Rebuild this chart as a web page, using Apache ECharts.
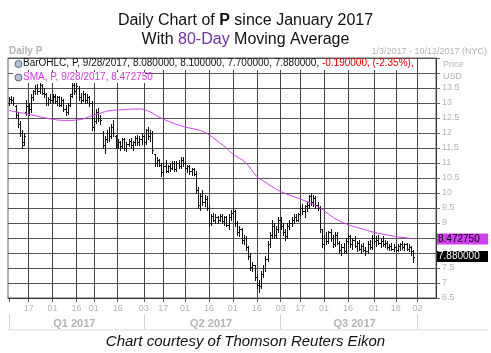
<!DOCTYPE html>
<html>
<head>
<meta charset="utf-8">
<script src="https://cdn.jsdelivr.net/npm/echarts@6/dist/echarts.min.js"></script>
<style>
  html, body { margin: 0; padding: 0; background: #fff; }
  #chart { width: 491px; height: 353px; }
</style>
</head>
<body>
<div id="chart"></div>
<script>
// trading calendar, 1/3/2017 - 10/12/2017
var holidays = ['2017-01-16', '2017-02-20', '2017-04-14', '2017-05-29', '2017-07-04', '2017-09-04']
var labelDates = ['2017-01-17', '2017-02-01', '2017-02-16', '2017-03-01', '2017-03-16', '2017-04-03',
  '2017-04-17', '2017-05-01', '2017-05-16', '2017-06-01', '2017-06-16', '2017-07-03', '2017-07-17',
  '2017-08-01', '2017-08-16', '2017-09-01', '2017-09-18', '2017-10-02']
var quarterStarts = ['2017-01-03', '2017-04-03', '2017-07-03', '2017-10-02']
var quarterLabelDates = ['2017-02-15', '2017-05-17', '2017-08-21']
var quarterNames = ['Q1 2017', 'Q2 2017', 'Q3 2017']

// daily bars, P
var opens = [
  13.0, 13.15, 13.1, 12.9, 12.6, 12.3, 12.0, 11.7, 12.7, 12.9,
  12.8, 13.2, 13.4, 13.5, 13.4, 13.6, 13.35, 13.3, 13.0, 13.15,
  13.1, 13.2, 13.05, 13.2, 12.95, 13.1, 12.8, 12.7, 12.95, 13.3,
  13.6, 13.4, 13.5, 13.2, 13.1, 13.3, 13.1, 13.2, 13.0, 12.2,
  12.4, 12.7, 12.5, 12.0, 11.6, 11.8, 12.0, 11.9, 12.2, 11.9,
  11.6, 11.7, 11.55, 11.8, 11.5, 11.65, 11.75, 11.6, 11.7, 11.85,
  11.7, 11.8, 11.9, 11.7, 12.1, 11.9, 12.0, 11.3, 11.0, 11.1,
  10.95, 10.7, 10.9, 10.75, 10.9, 10.85, 11.0, 10.8, 11.0, 10.9,
  11.1, 11.0, 10.85, 10.9, 10.75, 10.8, 10.65, 10.1, 9.6, 9.9,
  9.7, 9.8, 9.5, 9.0, 9.25, 9.1, 9.2, 9.1, 9.25, 9.05,
  9.2, 8.95, 9.2, 9.35, 9.4, 9.0, 8.7, 8.8, 8.45, 8.5,
  8.2, 7.9, 7.55, 7.6, 7.2, 6.95, 6.9, 7.3, 7.5, 7.8,
  8.3, 8.6, 8.9, 8.6, 8.8, 9.1, 8.9, 8.7, 8.55, 8.9,
  9.0, 9.1, 9.2, 9.1, 9.3, 9.5, 9.4, 9.55, 9.6, 9.9,
  9.7, 9.85, 9.6, 9.5, 8.8, 8.3, 8.5, 8.4, 8.7, 8.5,
  8.3, 8.6, 8.35, 8.1, 8.2, 8.05, 8.4, 8.55, 8.3, 8.45,
  8.25, 8.35, 8.15, 8.25, 8.1, 8.05, 8.3, 8.2, 8.5, 8.4,
  8.45, 8.35, 8.4, 8.3, 8.35, 8.2, 8.25, 8.15, 8.2, 8.1,
  8.25, 8.3, 8.2, 8.3, 8.15, 8.2, 8.08
]
var highs = [
  13.2, 13.25, 13.2, 12.95, 12.7, 12.4, 12.1, 12.0, 13.1, 13.0,
  13.3, 13.45, 13.6, 13.65, 13.7, 13.65, 13.5, 13.35, 13.2, 13.3,
  13.3, 13.3, 13.25, 13.25, 13.2, 13.15, 12.95, 13.0, 13.3, 13.7,
  13.7, 13.65, 13.55, 13.35, 13.4, 13.35, 13.3, 13.25, 13.05, 12.5,
  12.8, 12.85, 12.6, 12.05, 11.9, 12.1, 12.2, 12.3, 12.45, 11.95,
  11.8, 11.75, 11.85, 11.85, 11.7, 11.8, 11.85, 11.75, 11.9, 11.95,
  11.9, 12.0, 11.95, 12.15, 12.2, 12.1, 12.05, 11.3, 11.2, 11.15,
  11.0, 11.0, 11.1, 10.95, 11.0, 11.05, 11.05, 11.05, 11.1, 11.2,
  11.2, 11.05, 10.95, 10.95, 10.85, 10.85, 10.75, 10.2, 10.0, 10.1,
  9.95, 9.9, 9.6, 9.3, 9.35, 9.3, 9.25, 9.3, 9.3, 9.25,
  9.25, 9.3, 9.45, 9.5, 9.45, 9.05, 8.9, 8.85, 8.6, 8.55,
  8.25, 8.0, 7.7, 7.6, 7.3, 7.1, 7.4, 7.6, 7.9, 8.4,
  8.7, 9.1, 9.0, 8.9, 9.2, 9.2, 9.0, 8.8, 9.0, 9.1,
  9.2, 9.3, 9.3, 9.35, 9.6, 9.65, 9.6, 9.7, 9.95, 10.0,
  9.95, 9.9, 9.7, 9.55, 8.8, 8.6, 8.7, 8.75, 8.8, 8.6,
  8.7, 8.7, 8.4, 8.3, 8.35, 8.5, 8.65, 8.6, 8.5, 8.55,
  8.4, 8.45, 8.3, 8.35, 8.2, 8.4, 8.45, 8.6, 8.6, 8.55,
  8.6, 8.5, 8.55, 8.45, 8.4, 8.3, 8.35, 8.3, 8.25, 8.3,
  8.35, 8.4, 8.35, 8.35, 8.3, 8.25, 8.10
]
var lows = [
  12.95, 13.0, 12.95, 12.5, 12.2, 11.9, 11.5, 11.6, 12.6, 12.6,
  12.7, 13.1, 13.3, 13.3, 13.35, 13.3, 13.2, 12.95, 12.95, 13.0,
  13.0, 13.0, 12.95, 12.9, 12.9, 12.75, 12.6, 12.65, 12.9, 13.2,
  13.3, 13.3, 13.1, 13.0, 13.05, 13.0, 13.0, 12.9, 12.1, 12.1,
  12.35, 12.4, 12.3, 11.5, 11.35, 11.7, 11.75, 11.85, 11.9, 11.5,
  11.5, 11.45, 11.5, 11.45, 11.4, 11.55, 11.5, 11.45, 11.6, 11.6,
  11.6, 11.65, 11.6, 11.65, 11.8, 11.75, 11.35, 10.9, 10.9, 10.9,
  10.55, 10.6, 10.7, 10.7, 10.75, 10.8, 10.75, 10.75, 10.85, 10.85,
  10.9, 10.8, 10.7, 10.65, 10.6, 10.6, 10.0, 9.5, 9.45, 9.6,
  9.55, 9.45, 8.9, 8.95, 9.05, 9.0, 9.0, 9.05, 9.0, 8.95,
  8.9, 8.8, 9.1, 9.2, 8.9, 8.6, 8.55, 8.35, 8.3, 8.1,
  7.8, 7.45, 7.4, 7.1, 6.85, 6.7, 6.85, 7.2, 7.4, 7.75,
  8.2, 8.5, 8.5, 8.5, 8.7, 8.8, 8.6, 8.45, 8.5, 8.8,
  8.9, 9.0, 9.05, 9.05, 9.25, 9.3, 9.2, 9.4, 9.5, 9.6,
  9.55, 9.5, 9.45, 8.7, 8.2, 8.15, 8.3, 8.35, 8.4, 8.2,
  8.25, 8.3, 8.0, 7.95, 8.0, 8.0, 8.3, 8.2, 8.15, 8.2,
  8.05, 8.1, 8.0, 8.05, 7.95, 8.0, 8.15, 8.15, 8.3, 8.25,
  8.3, 8.2, 8.25, 8.2, 8.15, 8.1, 8.1, 8.05, 8.05, 8.05,
  8.1, 8.15, 8.1, 8.1, 8.05, 7.95, 7.70
]
var closes = [
  13.15, 13.1, 13.0, 12.6, 12.3, 12.0, 11.6, 11.9, 12.9, 12.8,
  13.2, 13.4, 13.5, 13.4, 13.6, 13.35, 13.3, 13.0, 13.15, 13.1,
  13.25, 13.05, 13.2, 12.95, 13.1, 12.8, 12.7, 12.95, 13.25, 13.6,
  13.4, 13.55, 13.2, 13.1, 13.3, 13.1, 13.2, 13.0, 12.2, 12.4,
  12.7, 12.5, 12.45, 11.6, 11.8, 12.0, 11.9, 12.2, 12.0, 11.6,
  11.7, 11.55, 11.8, 11.5, 11.65, 11.75, 11.6, 11.7, 11.85, 11.7,
  11.8, 11.9, 11.7, 12.1, 11.9, 12.0, 11.45, 11.0, 11.1, 10.95,
  10.7, 10.9, 10.75, 10.9, 10.85, 11.0, 10.8, 11.0, 10.9, 11.1,
  11.0, 10.85, 10.9, 10.75, 10.8, 10.65, 10.1, 9.6, 9.9, 9.7,
  9.8, 9.5, 9.0, 9.25, 9.1, 9.2, 9.1, 9.25, 9.05, 9.2,
  8.95, 9.2, 9.35, 9.4, 9.0, 8.7, 8.8, 8.45, 8.5, 8.2,
  7.9, 7.55, 7.6, 7.2, 6.95, 6.9, 7.3, 7.5, 7.8, 8.3,
  8.6, 8.9, 8.6, 8.8, 9.1, 8.9, 8.7, 8.55, 8.9, 9.0,
  9.1, 9.2, 9.1, 9.3, 9.5, 9.4, 9.55, 9.6, 9.9, 9.7,
  9.85, 9.6, 9.5, 8.8, 8.3, 8.5, 8.4, 8.7, 8.5, 8.3,
  8.6, 8.35, 8.1, 8.2, 8.05, 8.4, 8.55, 8.3, 8.45, 8.25,
  8.35, 8.15, 8.25, 8.1, 8.05, 8.3, 8.2, 8.5, 8.4, 8.45,
  8.35, 8.4, 8.3, 8.35, 8.2, 8.25, 8.15, 8.2, 8.1, 8.25,
  8.3, 8.2, 8.3, 8.15, 8.2, 8.07, 7.88
]

// 80-day SMA, read at points along the line (day index, value)
var smaDays = [0, 10, 19, 26, 33, 37, 42, 46, 53, 60, 65, 69, 79, 88, 92, 97, 100, 103, 109, 114, 117, 125, 134, 142, 152, 165, 174, 186]
var smaValues = [12.75, 12.61, 12.47, 12.42, 12.45, 12.55, 12.66, 12.74, 12.78, 12.8, 12.7, 12.53, 12.24, 12.08, 11.94, 11.67, 11.5, 11.3, 11.0, 10.55, 10.4, 10.05, 9.8, 9.55, 9.07, 8.75, 8.6, 8.47275]

var lastSma = 8.47275
var lastClose = 7.88

function pad(n) { return n < 10 ? '0' + n : '' + n }
var days = []
for (var d = new Date(Date.UTC(2017, 0, 3)); d.getTime() <= Date.UTC(2017, 9, 12); d.setUTCDate(d.getUTCDate() + 1)) {
  var wd = d.getUTCDay()
  var s = d.getUTCFullYear() + '-' + pad(d.getUTCMonth() + 1) + '-' + pad(d.getUTCDate())
  if (wd === 0 || wd === 6 || holidays.indexOf(s) >= 0) continue
  days.push(s)
}

var ohlcData = closes.map(function (c, i) { return [i, opens[i], highs[i], lows[i], c] })
var smaData = smaDays.map(function (i, k) { return [i, smaValues[k]] })

function renderOHLC(params, api) {
  var i = api.value(0)
  var x = Math.round(api.coord([i, 0])[0]) + 0.5
  var yo = Math.round(api.coord([i, api.value(1)])[1]) + 0.5
  var yh = Math.round(api.coord([i, api.value(2)])[1])
  var yl = Math.round(api.coord([i, api.value(3)])[1]) + 1
  var yc = Math.round(api.coord([i, api.value(4)])[1]) + 0.5
  var st = { stroke: '#111', lineWidth: 1 }
  return {
    type: 'group',
    children: [
      { type: 'line', shape: { x1: x, y1: yh, x2: x, y2: yl }, style: st },
      { type: 'line', shape: { x1: x - 1.5, y1: yo, x2: x + 0.5, y2: yo }, style: st },
      { type: 'line', shape: { x1: x - 0.5, y1: yc, x2: x + 1.5, y2: yc }, style: st }
    ]
  }
}

// price tag at the right of the value axis
function tag(value, bg, fg) {
  return {
    yAxis: value,
    lineStyle: { color: 'rgba(0,0,0,0)', width: 1 },
    label: {
      show: true,
      position: 'end',
      distance: 1,
      formatter: value.toFixed(6),
      backgroundColor: bg,
      color: fg,
      fontSize: 10,
      fontFamily: FONT,
      padding: [1, 3, 0, 1],
      width: 47,
      align: 'left'
    }
  }
}

var FONT = 'Liberation Sans, Arial, sans-serif'
var grey = '#b4b4b4'
var myChart = echarts.init(document.getElementById('chart'), null, { renderer: 'canvas' })

myChart.setOption({
  animation: false,
  backgroundColor: '#fff',
  textStyle: { fontFamily: FONT },
  title: {
    text: '{n|Daily Chart of }{b|P}{n| since January 2017}\n{n|With }{p|80-Day}{n| Moving Average}',
    left: 'center',
    top: 6,
    textStyle: {
      fontWeight: 'normal',
      rich: {
        n: { fontSize: 16, color: '#111', fontWeight: 'normal', lineHeight: 19, fontFamily: FONT },
        b: { fontSize: 16, color: '#111', fontWeight: 'bold', lineHeight: 19, fontFamily: FONT },
        p: { fontSize: 16, color: '#7030a0', fontWeight: 'normal', lineHeight: 19, fontFamily: FONT }
      }
    }
  },
  grid: {
    left: 8,
    right: 55,
    top: 58,
    height: 240,
    containLabel: false,
    outerBoundsMode: 'none',
    show: true,
    borderColor: '#666',
    borderWidth: 1,
    backgroundColor: '#fff'
  },
  xAxis: [
    {
      type: 'category',
      data: days,
      boundaryGap: true,
      axisLine: { show: true, lineStyle: { color: '#333' } },
      axisTick: {
        show: true,
        alignWithLabel: true,
        length: 4,
        lineStyle: { color: '#555' },
        interval: function (i, v) { return i === 0 || labelDates.indexOf(v) >= 0 }
      },
      axisLabel: {
        margin: 6,
        fontSize: 9,
        color: grey,
        interval: function (i, v) { return labelDates.indexOf(v) >= 0 },
        formatter: function (v) { return v.slice(8) }
      },
      splitLine: {
        show: true,
        alignWithLabel: true,
        lineStyle: { color: '#444', width: 1 },
        interval: function (i, v) { return labelDates.indexOf(v) >= 0 }
      }
    },
    {
      type: 'category',
      data: days,
      position: 'bottom',
      offset: 16,
      boundaryGap: true,
      axisLine: { show: false },
      axisTick: {
        show: true,
        alignWithLabel: true,
        length: 16,
        lineStyle: { color: '#d0d0d0' },
        interval: function (i, v) { return quarterStarts.indexOf(v) >= 0 }
      },
      axisLabel: {
        margin: 4,
        fontSize: 11,
        fontWeight: 'bold',
        color: grey,
        interval: function (i, v) { return quarterLabelDates.indexOf(v) >= 0 },
        formatter: function (v) {
          var k = quarterLabelDates.indexOf(v)
          return k >= 0 ? quarterNames[k] : ''
        }
      },
      splitLine: { show: false }
    }
  ],
  yAxis: {
    type: 'value',
    position: 'right',
    min: 6.5,
    max: 14.5,
    interval: 0.5,
    axisLine: { show: true, lineStyle: { color: '#333' } },
    axisTick: { show: true, length: 4, lineStyle: { color: '#666' } },
    axisLabel: {
      margin: 6,
      fontSize: 9,
      color: grey,
      formatter: function (v) { return v > 13.6 ? '' : String(v) }
    },
    splitLine: { show: true, lineStyle: { color: '#555', width: 1 } }
  },
  series: [
    {
      name: 'BarOHLC',
      type: 'custom',
      renderItem: renderOHLC,
      data: ohlcData,
      encode: { x: 0, y: [1, 2, 3, 4] },
      clip: false,
      z: 3
    },
    {
      name: 'SMA',
      type: 'line',
      data: smaData,
      smooth: 0.4,
      showSymbol: false,
      clip: false,
      lineStyle: { color: '#cc44e8', width: 1 },
      z: 4,
      markLine: {
        silent: true,
        symbol: ['none', 'none'],
        z: 10,
        data: [tag(lastSma, '#d040f0', '#000'), tag(lastClose, '#000', '#fff')]
      }
    }
  ],
  graphic: [
    { type: 'text', z: 100, left: 9, top: 46, style: { text: 'Daily P', font: 'bold 10px ' + FONT, fill: grey } },
    { type: 'text', z: 100, right: 4, top: 47, style: { text: '1/3/2017 - 10/12/2017 (NYC)', font: '9px ' + FONT, fill: grey } },
    { type: 'text', z: 100, left: 443, top: 60, style: { text: 'Price', font: '9px ' + FONT, fill: grey } },
    { type: 'text', z: 100, left: 443, top: 72, style: { text: 'USD', font: '9px ' + FONT, fill: grey } },
    { type: 'rect', z: 99, shape: { x: 13, y: 59, width: 402, height: 11 }, style: { fill: '#fff' } },
    { type: 'rect', z: 99, shape: { x: 13, y: 72, width: 132, height: 11 }, style: { fill: '#fff' } },
    { type: 'circle', z: 100, shape: { cx: 18.5, cy: 64, r: 3.5 }, style: { fill: '#b9c3d6', stroke: '#5a6377', lineWidth: 1 } },
    { type: 'circle', z: 100, shape: { cx: 18.5, cy: 77.5, r: 3.5 }, style: { fill: '#b9c3d6', stroke: '#5a6377', lineWidth: 1 } },
    {
      type: 'text', z: 100, left: 23, top: 58.5,
      style: {
        text: '{k|BarOHLC, P, 9/28/2017, 8.080000, 8.100000, 7.700000, 7.880000, }{r|-0.190000, (-2.35%),}',
        rich: {
          k: { fontSize: 10, fontFamily: FONT, fill: '#111', lineHeight: 12 },
          r: { fontSize: 10, fontFamily: FONT, fill: '#e00000', lineHeight: 12 }
        }
      }
    },
    {
      type: 'text', z: 100, left: 23, top: 72,
      style: { text: 'SMA, P, 9/28/2017, 8.472750', font: '10px ' + FONT, fill: '#d23cdc' }
    },
    { type: 'rect', z: 100, shape: { x: 8, y: 329, width: 479, height: 2 }, style: { fill: '#ececec' } },
    {
      type: 'text', z: 100, left: 'center', top: 334,
      style: { text: 'Chart courtesy of Thomson Reuters Eikon', font: 'italic 15px ' + FONT, fill: '#111' }
    }
  ]
})
</script>
</body>
</html>
